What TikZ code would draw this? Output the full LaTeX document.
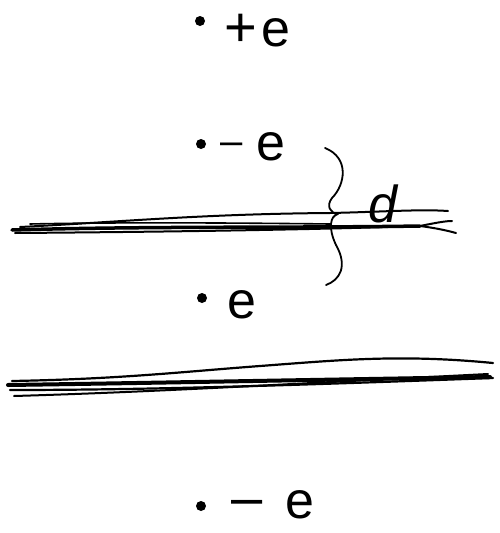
\documentclass[tikz,border=0pt]{standalone}
\usepackage{fontspec}
\setmainfont{Liberation Sans}
\begin{document}
\begin{tikzpicture}[x=1pt,y=-1pt,
  ink/.style={draw=black,line cap=round,line join=round},
  lbl/.style={font=\fontsize{52}{52}\selectfont,inner sep=0pt,anchor=base,text depth=0pt},
  sgn/.style={font=\fontsize{56}{56}\selectfont,inner sep=0pt,anchor=base,text depth=0pt},
  pt/.style={circle,fill=black,inner sep=0pt,minimum size=10pt}]
\useasboundingbox (0,0) rectangle (500,533);
% charges
\node[pt] (p1) at (200,21) {};
\node[sgn] (s1) at (241,46) {+};
\node[lbl] (q1) at (276,46) {e};
\node[pt] (p2) at (201,144) {};
\node[sgn,font=\fontsize{40}{40}\selectfont] (s2) at (232,154) {–};
\node[lbl] (q2) at (271,160) {e};
\node[pt] (p3) at (202,298) {};
\node[lbl] (q3) at (242,318) {e};
\node[pt] (p4) at (201,506) {};
\node[sgn] (s4) at (247,516) {–};
\node[lbl] (q4) at (300,518) {e};
% brace and d
\coordinate (b1) at (325,148);
\coordinate (b2) at (338,214);
\coordinate (b3) at (326,285);
\draw[ink,line width=1.8pt] (b1) .. controls (350,158) and (345,185) .. (332,198)
  .. controls (326,206) and (330,213) .. (b2)
  .. controls (330,216) and (328,228) .. (336,245)
  .. controls (348,266) and (340,280) .. (b3);
\node[lbl,font=\fontsize{52}{52}\selectfont\itshape] (d) at (383,222) {d};
% upper plate
\draw[ink,line width=3.5pt] (12,230) .. controls (150,226) and (300,228) .. (420,226);
\draw[ink,line width=2pt] (20,227) .. controls (120,222) and (200,214) .. (330,213) .. controls (380,212) and (420,209) .. (448,211);
\draw[ink,line width=2pt] (15,233) .. controls (150,232) and (300,230) .. (420,226) .. controls (435,223) and (445,221) .. (452,221);
\draw[ink,line width=2pt] (420,226) .. controls (435,228) and (445,230) .. (456,233);
\draw[ink,line width=1.6pt] (30,224) .. controls (120,222) and (250,223) .. (330,224);
% lower plate
\draw[ink,line width=4pt] (8,385) .. controls (150,383) and (300,380) .. (490,377);
\draw[ink,line width=2.2pt] (10,390) .. controls (150,390) and (300,385) .. (493,378);
\draw[ink,line width=2.2pt] (12,381) .. controls (120,379) and (180,372) .. (260,366) .. controls (340,360) and (400,354) .. (493,363);
\draw[ink,line width=2pt] (14,396) .. controls (150,392) and (250,386) .. (488,374);
\end{tikzpicture}
\end{document}
